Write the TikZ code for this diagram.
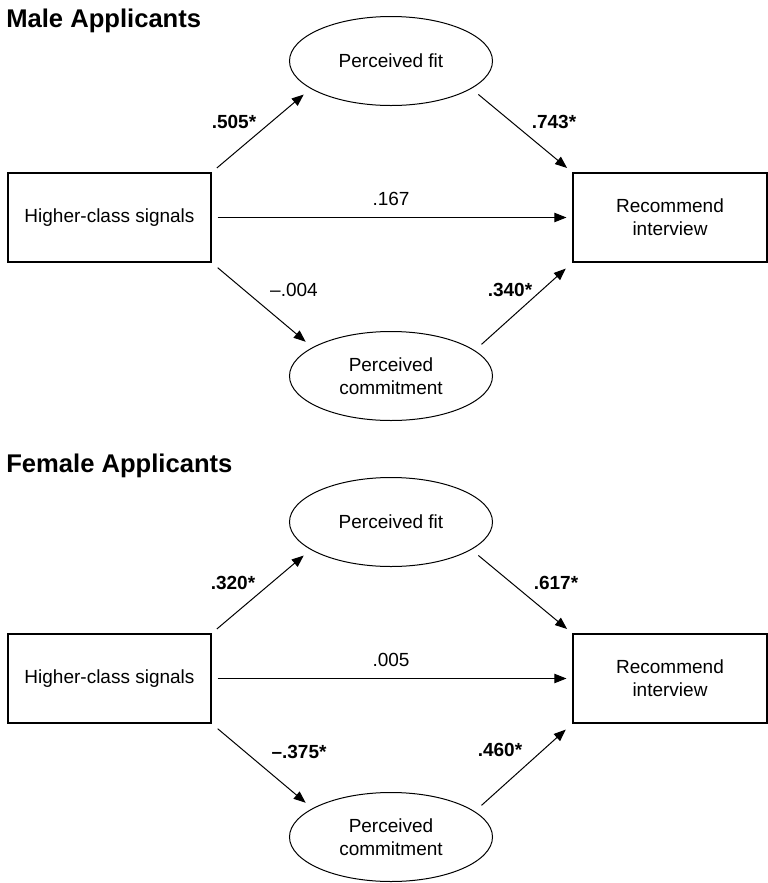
\documentclass[tikz,border=0pt]{standalone}
\usepackage{fontspec}
\setmainfont{Liberation Sans}
\usetikzlibrary{arrows.meta,shapes.geometric}
\begin{document}
\begin{tikzpicture}[x=0.75pt,y=-0.75pt,
  every node/.style={font=\fontsize{14.25pt}{17.25pt}\selectfont},
  boxnode/.style={draw, line width=0.8pt, minimum height=66.75pt, inner sep=0pt, align=center},
  ellnode/.style={draw, ellipse, line width=0.75pt, minimum width=152.25pt, minimum height=66.75pt, inner sep=0pt, align=center},
  arr/.style={-{Triangle[length=9pt,width=7pt]}, line width=0.75pt},
  coef/.style={inner sep=0pt},
  sig/.style={inner sep=0pt, font=\fontsize{14.25pt}{17.25pt}\selectfont\bfseries},
  paneltitle/.style={anchor=base west, inner sep=0pt, font=\fontsize{19.2pt}{22pt}\selectfont\bfseries}]
\useasboundingbox (0,0) rectangle (768,883);

% ---------- Male panel ----------
\node[paneltitle] (tm) at (6,27) {Male Applicants};
\node[boxnode, minimum width=152.25pt] (hcs1) at (109.5,217.5) {Higher-class signals};
\node[boxnode, minimum width=145.5pt] (rec1) at (670,217.5) {Recommend\\interview};
\node[ellnode] (fit1) at (391,61) {Perceived fit};
\node[ellnode] (com1) at (391,376) {Perceived\\commitment};

\draw[arr, shorten <=5.25pt, shorten >=6.75pt] (hcs1.north east) -- (fit1.199.5);
\draw[arr, shorten <=6.75pt, shorten >=5.25pt] (fit1.341.6) -- (rec1.north west);
\draw[arr, shorten <=4.5pt, shorten >=4.5pt] (hcs1.east) -- (rec1.west);
\draw[arr, shorten <=6pt, shorten >=6.5pt] (hcs1.south east) -- (com1.160.2);
\draw[arr, shorten <=6.75pt, shorten >=6.75pt] (com1.17.7) -- (rec1.south west);

\node[sig] (m1) at (234,122) {.505*};
\node[sig] (m2) at (554,122) {.743*};
\node[coef] (m3) at (391,199) {.167};
\node[coef] (m4) at (294,290) {–.004};
\node[sig] (m5) at (510,290) {.340*};

% ---------- Female panel ----------
\node[paneltitle] (tf) at (6,472) {Female Applicants};
\node[boxnode, minimum width=152.25pt] (hcs2) at (109.5,678.5) {Higher-class signals};
\node[boxnode, minimum width=145.5pt] (rec2) at (670,678.5) {Recommend\\interview};
\node[ellnode] (fit2) at (391,522) {Perceived fit};
\node[ellnode] (com2) at (391,837) {Perceived\\commitment};

\draw[arr, shorten <=5.25pt, shorten >=6.75pt] (hcs2.north east) -- (fit2.199.5);
\draw[arr, shorten <=6.75pt, shorten >=5.25pt] (fit2.341.6) -- (rec2.north west);
\draw[arr, shorten <=4.5pt, shorten >=4.5pt] (hcs2.east) -- (rec2.west);
\draw[arr, shorten <=6pt, shorten >=6.5pt] (hcs2.south east) -- (com2.160.2);
\draw[arr, shorten <=6.75pt, shorten >=6.75pt] (com2.17.7) -- (rec2.south west);

\node[sig] (f1) at (233,583) {.320*};
\node[sig] (f2) at (556,583) {.617*};
\node[coef] (f3) at (391,660) {.005};
\node[sig] (f4) at (299,752) {–.375*};
\node[sig] (f5) at (500,750) {.460*};
\end{tikzpicture}
\end{document}
